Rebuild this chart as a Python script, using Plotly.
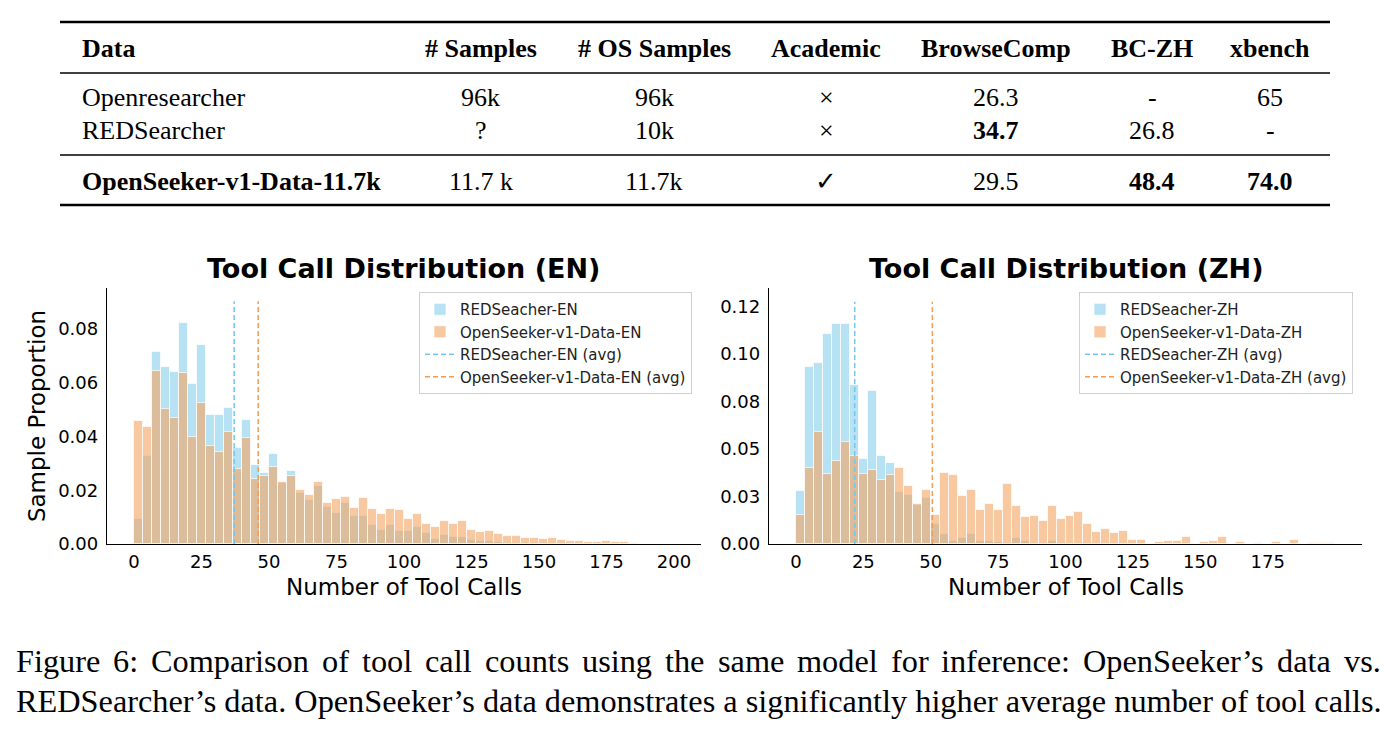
import numpy as np
import plotly.graph_objects as go

W, H = 1396, 735

# ---------------- data ----------------
table_header = ["Data", "# Samples", "# OS Samples", "Academic", "BrowseComp", "BC-ZH", "xbench"]
table_rows = [
    ["Openresearcher", "96k", "96k", "×", "26.3", "-", "65"],
    ["REDSearcher", "?", "10k", "×", "<b>34.7</b>", "26.8", "-"],
    ["<b>OpenSeeker-v1-Data-11.7k</b>", "11.7 k", "11.7k", "✓", "29.5", "<b>48.4</b>", "<b>74.0</b>"],
]

max_calls = 200
n_bins = 60
en_xticks = [0, 25, 50, 75, 100, 125, 150, 175, 200]
zh_xticks = [0, 25, 50, 75, 100, 125, 150, 175]
en_yticks = [0, 0.02, 0.04, 0.06, 0.08]
zh_yticks = [0, 0.025, 0.05, 0.075, 0.1, 0.125]
zh_ytick_text = ["0.00", "0.03", "0.05", "0.08", "0.10", "0.12"]

red_en = [0.0092, 0.0328, 0.0713, 0.0657, 0.0639, 0.0819, 0.0592, 0.0738, 0.0478, 0.0477,
          0.0504, 0.0357, 0.0461, 0.0295, 0.0263, 0.0335, 0.0225, 0.0270, 0.0188, 0.0163,
          0.0217, 0.0139, 0.0117, 0.0154, 0.0104, 0.0104, 0.0069, 0.0053, 0.0071, 0.0050,
          0.0050, 0.0063, 0.0040, 0.0018, 0.0034, 0.0026, 0.0028, 0.0016, 0.0012, 0.0010,
          0.0007, 0.0005, 0.0005, 0.0004, 0.0003, 0.0003, 0.0002, 0.0003, 0.0001, 0.0001,
          0.0001, 0.0001, 0.0001, 0.0001, 0.0000, 0.0000, 0.0000, 0.0000, 0.0000, 0.0000]
os_en = [0.0457, 0.0435, 0.0643, 0.0501, 0.0466, 0.0636, 0.0398, 0.0525, 0.0365, 0.0343,
         0.0414, 0.0280, 0.0394, 0.0242, 0.0252, 0.0285, 0.0231, 0.0251, 0.0199, 0.0182,
         0.0230, 0.0151, 0.0168, 0.0174, 0.0134, 0.0171, 0.0131, 0.0111, 0.0130, 0.0127,
         0.0092, 0.0110, 0.0075, 0.0065, 0.0087, 0.0075, 0.0084, 0.0054, 0.0044, 0.0050,
         0.0039, 0.0030, 0.0030, 0.0023, 0.0023, 0.0017, 0.0023, 0.0016, 0.0011, 0.0011,
         0.0006, 0.0006, 0.0012, 0.0009, 0.0006, 0.0004, 0.0002, 0.0001, 0.0001, 0.0001]
red_zh = [0.0277, 0.0934, 0.0951, 0.1103, 0.1159, 0.1159, 0.0838, 0.0448, 0.0803, 0.0463,
          0.0425, 0.0275, 0.0258, 0.0205, 0.0244, 0.0108, 0.0054, 0.0014, 0.0030, 0.0054,
          0.0017, 0.0014, 0.0010, 0.0005, 0.0030, 0.0014, 0.0005, 0.0003, 0.0014, 0.0003,
          0.0000, 0.0000, 0.0000, 0.0000, 0.0000, 0.0000, 0.0000, 0.0000, 0.0000, 0.0000,
          0.0000, 0.0000, 0.0000, 0.0000, 0.0000, 0.0000, 0.0000, 0.0000, 0.0000, 0.0000,
          0.0000, 0.0000, 0.0000, 0.0000, 0.0000, 0.0000, 0.0000, 0.0000, 0.0000, 0.0000]
os_zh = [0.0153, 0.0399, 0.0587, 0.0369, 0.0439, 0.0537, 0.0465, 0.0369, 0.0392, 0.0338,
         0.0362, 0.0402, 0.0303, 0.0211, 0.0284, 0.0152, 0.0373, 0.0364, 0.0251, 0.0284,
         0.0179, 0.0213, 0.0179, 0.0314, 0.0202, 0.0141, 0.0150, 0.0122, 0.0200, 0.0131,
         0.0150, 0.0171, 0.0108, 0.0064, 0.0080, 0.0057, 0.0071, 0.0023, 0.0023, 0.0000,
         0.0010, 0.0016, 0.0016, 0.0037, 0.0000, 0.0010, 0.0016, 0.0037, 0.0000, 0.0010,
         0.0000, 0.0003, 0.0000, 0.0010, 0.0000, 0.0023, 0.0000, 0.0003, 0.0003, 0.0003]

avg_en = {"red": 37.1, "os": 46.0}
avg_zh = {"red": 21.8, "os": 50.6}

caption_lines = [
    "Figure 6: Comparison of tool call counts using the same model for inference: OpenSeeker’s data vs.",
    "REDSearcher’s data. OpenSeeker’s data demonstrates a significantly higher average number of tool calls.",
]

# ---------------- helpers ----------------
YS = 1.014  # vertical correction of pixel readings


def fx(x):
    return x / W


def fy(y):
    return (H - y * YS) / H


SERIF = "Liberation Serif"
SANS = "DejaVu Sans"
BLUE_FILL = "rgba(135,206,235,0.6)"
ORANGE_FILL = "rgba(244,164,96,0.6)"
BLUE_LINE = "#72c8ec"
ORANGE_LINE = "#f59c52"
EDGE = "rgba(255,255,255,0.7)"

# Times-Roman advance widths (per 1000 em) used to justify the caption line
TIMES_W = {" ": 250, ":": 278, ".": 250, "’": 333, "-": 333,
           "A": 722, "B": 667, "C": 667, "D": 722, "E": 611, "F": 556, "G": 722, "H": 722, "I": 333,
           "J": 389, "K": 722, "L": 611, "M": 889, "N": 722, "O": 722, "P": 556, "Q": 722, "R": 667,
           "S": 556, "T": 611, "U": 722, "V": 722, "W": 944, "X": 722, "Y": 722, "Z": 611,
           "a": 444, "b": 500, "c": 444, "d": 500, "e": 444, "f": 333, "g": 500, "h": 500, "i": 278,
           "j": 278, "k": 500, "l": 278, "m": 778, "n": 500, "o": 500, "p": 500, "q": 500, "r": 333,
           "s": 389, "t": 278, "u": 500, "v": 500, "w": 722, "x": 500, "y": 500, "z": 444}


def tw(s, size):
    return sum(TIMES_W.get(c, 500) for c in s) * size / 1000.0


fig = go.Figure()


def add_hist(red, os_, avg, tag, xaxis, yaxis, legend):
    edges = np.linspace(0, max_calls, n_bins + 1)
    centers = (edges[:-1] + edges[1:]) / 2
    width = edges[1] - edges[0]
    top = max(max(red), max(os_)) * 1.1
    fig.add_trace(go.Bar(x=centers, y=red, width=width,
                         marker=dict(color=BLUE_FILL, line=dict(color=EDGE, width=1)),
                         name=f"REDSeacher-{tag}", xaxis=xaxis, yaxis=yaxis, legend=legend))
    fig.add_trace(go.Bar(x=centers, y=os_, width=width,
                         marker=dict(color=ORANGE_FILL, line=dict(color=EDGE, width=1)),
                         name=f"OpenSeeker-v1-Data-{tag}", xaxis=xaxis, yaxis=yaxis, legend=legend))
    fig.add_trace(go.Scatter(x=[avg["red"], avg["red"]], y=[0, top], mode="lines",
                             line=dict(color=BLUE_LINE, width=1.5, dash="5px,3px"),
                             name=f"REDSeacher-{tag} (avg)", xaxis=xaxis, yaxis=yaxis, legend=legend))
    fig.add_trace(go.Scatter(x=[avg["os"], avg["os"]], y=[0, top], mode="lines",
                             line=dict(color=ORANGE_LINE, width=1.5, dash="5px,3px"),
                             name=f"OpenSeeker-v1-Data-{tag} (avg)", xaxis=xaxis, yaxis=yaxis, legend=legend))


add_hist(red_en, os_en, avg_en, "EN", "x", "y", "legend")
add_hist(red_zh, os_zh, avg_zh, "ZH", "x2", "y2", "legend2")

ybot, ytop = fy(544), fy(288)
axis_common = dict(showline=True, linecolor="black", linewidth=1.3, mirror=False, showgrid=False,
                   zeroline=False, ticks="", tickfont=dict(family=SANS, size=18, color="black"))
xaxis_common = dict(ticklabelstandoff=1, **axis_common)
yaxis_common = dict(ticklabelstandoff=4, **axis_common)
xrange = [-0.05 * max_calls, 1.05 * max_calls]

legend_common = dict(xanchor="right", yanchor="top", bgcolor="white", bordercolor="#d0d0d0",
                     borderwidth=1, font=dict(family=SANS, size=15, color="#222"), traceorder="normal")

fig.update_layout(
    width=W, height=H, margin=dict(l=0, r=0, t=0, b=0),
    paper_bgcolor="white", plot_bgcolor="white",
    barmode="overlay", bargap=0,
    xaxis=dict(domain=[fx(107), fx(701)], range=xrange, anchor="y", tickvals=en_xticks, **xaxis_common),
    yaxis=dict(domain=[ybot, ytop], range=[0, 0.0950], anchor="x",
               tickvals=en_yticks, tickformat=".2f", **yaxis_common),
    xaxis2=dict(domain=[fx(769), fx(1362)], range=xrange, anchor="y2", tickvals=zh_xticks, **xaxis_common),
    yaxis2=dict(domain=[ybot, ytop], range=[0, 0.1347], anchor="x2",
                tickvals=zh_yticks, ticktext=zh_ytick_text, **yaxis_common),
    legend=dict(x=fx(692), y=fy(292), **legend_common),
    legend2=dict(x=fx(1353), y=fy(292), **legend_common),
    showlegend=True,
)

ann = []
for cx, t in [((107 + 701) / 2, "Tool Call Distribution (EN)"), ((769 + 1362) / 2, "Tool Call Distribution (ZH)")]:
    ann.append(dict(x=fx(cx), y=fy(268), text=f"<b>{t}</b>", showarrow=False, xref="paper", yref="paper",
                    xanchor="center", yanchor="middle", font=dict(family=SANS, size=27, color="black")))
    ann.append(dict(x=fx(cx), y=fy(587), text="Number of Tool Calls", showarrow=False, xref="paper", yref="paper",
                    xanchor="center", yanchor="middle", font=dict(family=SANS, size=23, color="black")))
ann.append(dict(x=fx(37), y=fy(416), text="Sample Proportion", textangle=-90, showarrow=False,
                xref="paper", yref="paper", xanchor="center", yanchor="middle",
                font=dict(family=SANS, size=23, color="black")))

# table
col_x = [80, 481, 654, 826, 996, 1152, 1270]
row_y = [97, 130, 181]
for i, h in enumerate(table_header):
    ann.append(dict(x=fx(col_x[i]), y=fy(48), text=f"<b>{h}</b>", showarrow=False, xref="paper", yref="paper",
                    xanchor="left" if i == 0 else "center", yanchor="middle",
                    font=dict(family=SERIF, size=26, color="black")))
for r, row in enumerate(table_rows):
    for i, v in enumerate(row):
        ann.append(dict(x=fx(col_x[i]), y=fy(row_y[r]), text=v, showarrow=False, xref="paper", yref="paper",
                        xanchor="left" if i == 0 else "center", yanchor="middle",
                        font=dict(family=SERIF, size=26, color="black")))

# caption: first line justified between the margins, last line natural
CAP_SIZE = 32.3
cap_left, cap_right = 15, 1380
words = caption_lines[0].split(" ")
word_w = [tw(w, CAP_SIZE) for w in words]
gap = (cap_right - cap_left - sum(word_w)) / (len(words) - 1)
xpos = cap_left
for w, ww in zip(words, word_w):
    ann.append(dict(x=fx(xpos), y=fy(661), text=w, showarrow=False, xref="paper", yref="paper",
                    xanchor="left", yanchor="middle", xshift=-1,
                    font=dict(family=SERIF, size=CAP_SIZE, color="black")))
    xpos += ww + gap
ann.append(dict(x=fx(cap_left), y=fy(701), text=caption_lines[1], showarrow=False, xref="paper", yref="paper",
                xanchor="left", yanchor="middle", xshift=-1,
                font=dict(family=SERIF, size=CAP_SIZE, color="black")))

fig.update_layout(annotations=ann)

shapes = []
for y, w in [(22, 2.5), (73, 1.4), (155, 1.4), (205, 2.5)]:
    shapes.append(dict(type="line", xref="paper", yref="paper", x0=fx(60), x1=fx(1330), y0=fy(y), y1=fy(y),
                       line=dict(color="black", width=w)))
fig.update_layout(shapes=shapes)

fig.write_html("out.html")
